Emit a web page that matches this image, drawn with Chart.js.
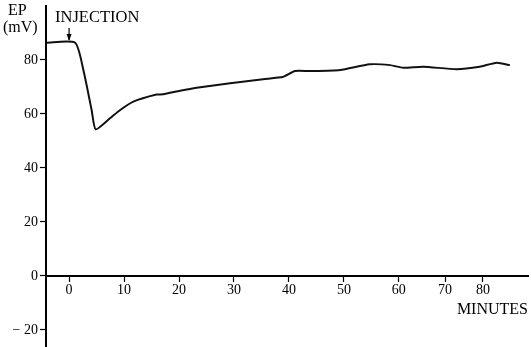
<!DOCTYPE html>
<html>
<head>
<meta charset="utf-8">
<script src="https://cdn.jsdelivr.net/npm/chart.js@4"></script>
<style>
html,body{margin:0;padding:0;background:#fff;}
#wrap{width:531px;height:347px;position:relative;}
</style>
</head>
<body>
<div id="wrap"><canvas id="c" width="531" height="347"></canvas></div>
<script>
// Time (minutes, in the figure's drawn scale) and EP (mV)
const minutes = [-4.2, 1.1, 2.6, 4.1, 4.85, 7.45, 9.3, 11.7, 15.9, 17.1, 20.2, 23.2, 29.3, 35.3, 39.0, 41.1, 43.8, 49.3, 54.7, 58.4, 60.8, 64.4, 70.5, 74.7, 77.8, 80.2];
const epValues = [86.4, 86.4, 76.3, 61.5, 54.3, 58.4, 61.5, 64.6, 67.2, 67.3, 68.6, 69.7, 71.4, 72.9, 73.8, 75.9, 75.9, 76.3, 78.4, 78.1, 77.1, 77.5, 76.6, 77.5, 79.0, 78.1];
// x tick positions as drawn in the figure, and their labels
const xTickValues = [0, 10, 20, 30, 40, 50, 60, 68.4, 75.3];
const xTickLabels = ['0', '10', '20', '30', '40', '50', '60', '70', '80'];
const yTickValues = [-20, 0, 20, 40, 60, 80];
const yTickLabels = ['\u2212 20', '0', '20', '40', '60', '80'];
const injectionTime = 0;

const FONT = "'Liberation Serif', 'DejaVu Serif', serif";

const annot = {
  id: 'annot',
  afterDraw(chart) {
    const ctx = chart.ctx;
    const xs = chart.scales.x;
    ctx.save();
    ctx.fillStyle = '#000';
    ctx.strokeStyle = '#000';
    ctx.font = '16px ' + FONT;
    ctx.textBaseline = 'middle';
    ctx.textAlign = 'left';
    ctx.fillText('EP', 8, 11);
    ctx.fillText('(mV)', 3, 28);
    ctx.font = '16.5px ' + FONT;
    ctx.fillText('INJECTION', 55, 18);
    const ax = xs.getPixelForValue(injectionTime);
    ctx.lineWidth = 1.2;
    ctx.beginPath();
    ctx.moveTo(ax, 28);
    ctx.lineTo(ax, 40);
    ctx.stroke();
    ctx.beginPath();
    ctx.moveTo(ax - 2.5, 34);
    ctx.lineTo(ax, 41);
    ctx.lineTo(ax + 2.5, 34);
    ctx.closePath();
    ctx.fill();
    ctx.restore();
  }
};

new Chart(document.getElementById('c'), {
  type: 'line',
  data: {
    datasets: [{
      data: minutes.map((m, i) => ({x: m, y: epValues[i]})),
      borderColor: '#111',
      borderWidth: 2,
      pointRadius: 0,
      tension: 0.2,
      fill: false
    }]
  },
  options: {
    responsive: false,
    animation: false,
    devicePixelRatio: 1,
    layout: {padding: {top: 6, right: 3, bottom: 0, left: 0}},
    plugins: {legend: {display: false}, tooltip: {enabled: false}},
    scales: {
      x: {
        type: 'linear',
        position: {y: 0},
        min: -4.2,
        max: 83.5,
        afterBuildTicks(s) { s.ticks = xTickValues.map(v => ({value: v})); },
        ticks: {
          color: '#000',
          font: {family: FONT, size: 14},
          padding: 1,
          maxRotation: 0,
          autoSkip: false,
          callback(v, i) { return xTickLabels[i]; }
        },
        grid: {display: true, drawOnChartArea: false, drawTicks: true, tickLength: 5, tickWidth: 1.2, color: '#000'},
        border: {display: true, color: '#000', width: 2},
        title: {display: true, text: 'MINUTES', align: 'end', color: '#000', font: {family: FONT, size: 16}, padding: {top: 0, bottom: 0}}
      },
      y: {
        type: 'linear',
        min: -26.3,
        max: 100,
        afterFit(s) { s.width = 46; s.paddingTop = 0; s.paddingBottom = 0; },
        afterBuildTicks(s) { s.ticks = yTickValues.map(v => ({value: v})); },
        ticks: {
          color: '#000',
          font: {family: FONT, size: 14},
          padding: 2,
          callback(v, i) { return yTickLabels[i]; }
        },
        grid: {display: true, drawOnChartArea: false, drawTicks: true, tickLength: 6, tickWidth: 1.2, color: '#000'},
        border: {display: true, color: '#000', width: 2}
      }
    }
  },
  plugins: [annot]
});
</script>
</body>
</html>
